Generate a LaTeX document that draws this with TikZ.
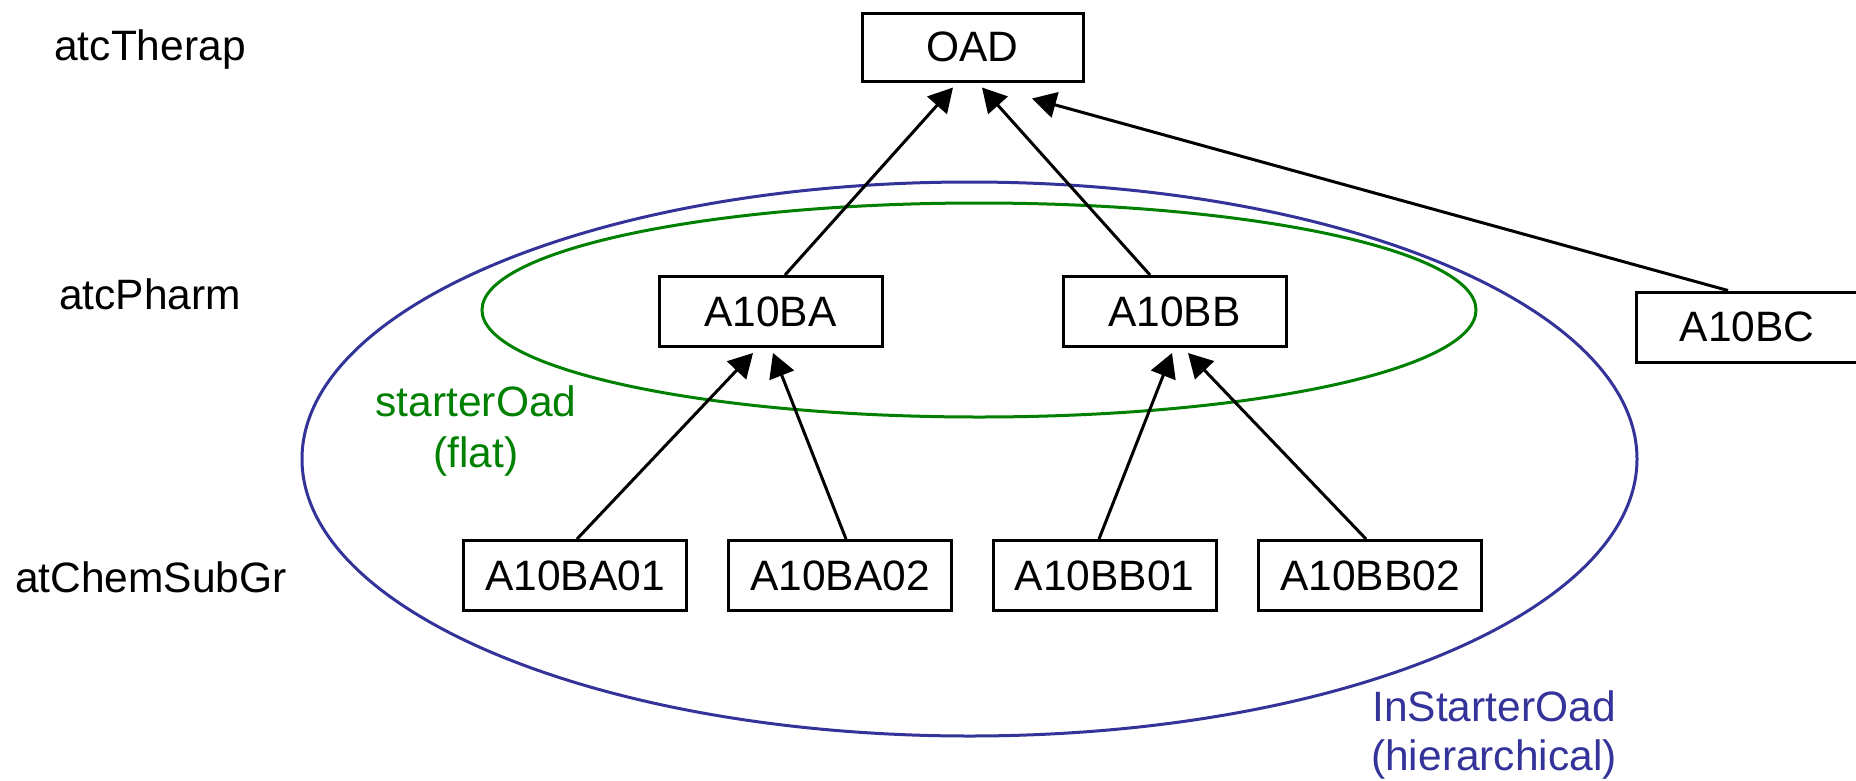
\documentclass[tikz,border=0pt]{standalone}
\usepackage{fontspec}
\setmainfont{Liberation Sans}
\usetikzlibrary{arrows.meta}
\definecolor{flatgreen}{RGB}{0,128,0}
\definecolor{hierblue}{RGB}{51,51,153}

\begin{document}
\begin{tikzpicture}[x=1pt,y=-1pt,
  every node/.style={font=\fontsize{42.5}{51}\selectfont},
  code/.style={draw, line width=3pt, minimum width=223pt, minimum height=70pt, inner sep=0pt},
  level/.style={anchor=base, inner sep=0pt},
  isa/.style={line width=3pt, -{Triangle[length=24pt,width=26pt]}},
  setline/.style={line width=3pt}]
\useasboundingbox (0,0) rectangle (1856,780);

% the two value sets
\draw[setline, hierblue] (969.5,459) ellipse [x radius=667.5pt, y radius=277pt];
\draw[setline, flatgreen] (979,310) ellipse [x radius=497pt, y radius=107pt];

% level names
\node[level] (lvtherap) at (150,60)  {atcTherap};
\node[level] (lvpharm)  at (150,309) {atcPharm};
\node[level] (lvchem)   at (151,592) {atChemSubGr};

% ATC codes
\node[code, minimum width=221pt, minimum height=68pt] (oad) at (972.5,47) {OAD};
\node[code] (ba) at (770.5,311.5) {A10BA};
\node[code] (bb) at (1174.5,311.5) {A10BB};
\node[code, minimum width=222pt] (bc) at (1747,327) {A10BC};
\node[code] (ba01) at (575,575.5)  {A10BA01};
\node[code] (ba02) at (840,575.5)  {A10BA02};
\node[code] (bb01) at (1104.5,575.5) {A10BB01};
\node[code] (bb02) at (1370,575.5) {A10BB02};

% set labels
\node[level, text=flatgreen] (flatA) at (476,416) {starterOad};
\node[level, text=flatgreen] (flatB) at (476,467) {(flat)};
\node[level, text=hierblue] (hierA) at (1494,721) {InStarterOad};
\node[level, text=hierblue] (hierB) at (1494,770) {(hierarchical)};

% is-a links
\draw[isa] ([xshift=14.5pt]ba.north) -- ([xshift=-19.5pt,yshift=-5pt]oad.south);
\draw[isa] ([xshift=-24.5pt]bb.north) -- ([xshift=9.5pt,yshift=-5pt]oad.south);
\draw[isa] ([xshift=-19pt]bc.north) -- ([xshift=59.5pt,yshift=-16pt]oad.south);
\draw[isa] ([xshift=2pt]ba01.north) -- ([xshift=-17.5pt,yshift=-5pt]ba.south);
\draw[isa] ([xshift=6pt]ba02.north) -- ([xshift=2.5pt,yshift=-5pt]ba.south);
\draw[isa] ([xshift=-5.5pt]bb01.north) -- ([xshift=-2.5pt,yshift=-5pt]bb.south);
\draw[isa] ([xshift=-4pt]bb02.north) -- ([xshift=13.5pt,yshift=-5pt]bb.south);
\end{tikzpicture}
\end{document}
